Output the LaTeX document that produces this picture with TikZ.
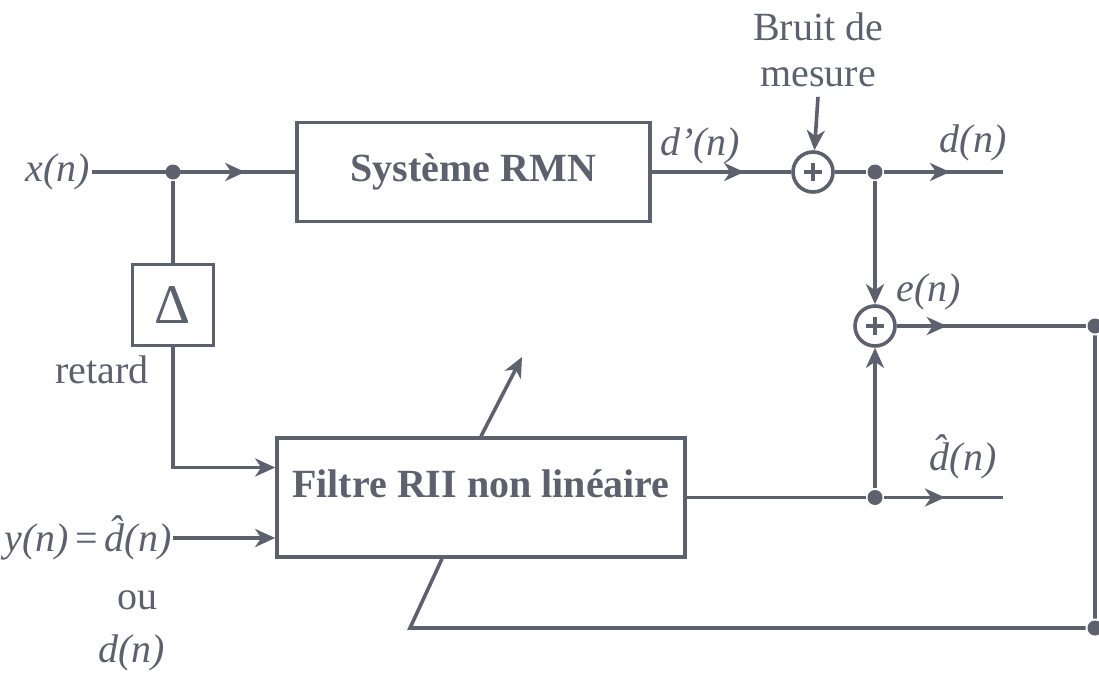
\documentclass[tikz,border=0pt]{standalone}
\usepackage{fontspec}
\setmainfont{Liberation Serif}
\usetikzlibrary{arrows.meta,positioning,calc,decorations.markings}
\definecolor{ink}{HTML}{5D616D}

\begin{document}
\begin{tikzpicture}[
  x=0.5pt, y=-0.5pt,
  color=ink, line width=1.8pt,
  font=\fontsize{20}{23}\selectfont,
  bloc/.style={draw=ink, line width=1.8pt},
  somme/.style={circle, draw=ink, line width=1.8pt, minimum size=20pt, inner sep=0pt,
    path picture={\draw[ink, line width=1.6pt]
      ($(path picture bounding box.center)+(-9,0)$) -- ++(18,0)
      ($(path picture bounding box.center)+(0,-9)$) -- ++(0,18);}},
  pt/.style={circle, fill=ink, inner sep=0pt, minimum size=7.5pt},
  sig/.style={font=\fontsize{20}{23}\selectfont\itshape, inner sep=0pt},
  arr/.style={-{Stealth[length=10pt,width=9pt,inset=3pt]}},
  midarr/.style={postaction={decorate}, decoration={markings,
    mark=at position #1 with {\arrow{Stealth[length=10pt,width=9pt,inset=3pt]}}}}
]
\useasboundingbox (0,0) rectangle (1099,675);

% blocs
\node[bloc, minimum width=176.5pt, minimum height=49.5pt, font=\fontsize{20}{23}\selectfont\bfseries] (rmn) at (473.5,172) {Système RMN};
\node[bloc, minimum width=204pt, minimum height=59.5pt,
  label={[font=\fontsize{20}{23}\selectfont\bfseries, yshift=7pt]center:Filtre RII non linéaire}] (filt) at (481,497.5) {};
\node[bloc, minimum size=40.5pt, font=\fontsize{28}{30}\selectfont] (delai) at (173,305) {Δ};

% sommateurs et points
\node[somme] (s1) at (813,172) {};
\node[somme] (s2) at (875,326) {};
\node[pt] (j1) at (173,172) {};
\node[pt] (j2) at (875,172) {};
\node[pt] (j3) at (875,497.5) {};
\node[pt] (j4) at (1095,326) {};
\node[pt] (j5) at (1095,628) {};

% textes
\node[sig] (xn) at (58,172) {x(n)};
\node[sig] (dpn) at (700,146) {d'(n)};
\node[sig] (dn) at (973,143) {d(n)};
\node[sig] (en) at (929,292) {e(n)};
\node[sig] (dhn) at (963,457) {\^{d}(n)};
\node[align=center, inner sep=0pt] (bruit) at (818,50) {Bruit de\\mesure};
\node (retard) at (102,370) {retard};
\node[sig] (yn) at (88,538) {y(n)\,{\upshape =}\,\^{d}(n)};
\node (ou) at (137,600) {ou};
\node[sig] (dn2) at (132,653) {d(n)};

\coordinate (dout) at (1003,172);
\coordinate (dhout) at (1003,497.5);
\coordinate (fbcoin) at (410,628);
\coordinate (fbin) at ([xshift=-19.5pt]filt.south);
\coordinate (adapt) at (522,357);

% liaisons
\draw[midarr=-25pt] (xn) -- (rmn);
\draw (j1) -- (delai);
\draw[arr] (delai) |- ([yshift=15pt]filt.west);
\draw[arr] (yn) -- (yn -| filt.west);
\draw[midarr=-23.5pt] (rmn) -- (s1);
\draw[arr] ([yshift=-4pt]bruit.south) -- (s1);
\draw (s1) -- (j2);
\draw[midarr=-26.5pt] (j2) -- (dout);
\draw[arr] (j2) -- (s2);
\draw[arr] (j3) -- (s2);
\draw[midarr=25pt] (s2) -- (j4);
\draw (j4) -- (j5) -- (fbcoin) -- (fbin);
\draw (filt) -- (j3);
\draw[midarr=-29pt] (j3) -- (dhout);
\draw[arr] (filt.north) -- (adapt);
\end{tikzpicture}
\end{document}
